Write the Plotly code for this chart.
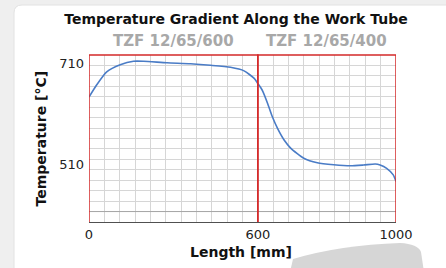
import plotly.graph_objects as go

# ---- data ----
length_mm = [0, 27, 63, 111, 158, 194, 277, 361, 432, 503, 551, 587, 600,
             609, 614, 628, 642, 657, 676, 695, 733, 772, 820, 868, 906,
             940, 954, 973, 992, 1000]
temperature_c = [643, 667, 693, 707, 714, 714, 711, 709, 706, 702, 695, 680, 670,
                 661, 655, 631, 604, 581, 558, 542, 522, 513, 509, 507, 508.5,
                 510.5, 508.5, 502, 489, 476]
section_bounds_mm = [0, 600, 1000]
section_names = ["TZF 12/65/600", "TZF 12/65/400"]
x_tick_mm = [0, 600, 1000]
x_tick_labels = ["0", "600", "1000"]
y_tick_vals = [510, 710]
y_tick_labels = ["510", "710"]

# grid cells per section (chart uses 11 cells for first tube, 9 for second)
section_cells = [11, 9]
Y_CELLS = 16


def to_u(mm):
    """Map length in mm onto the chart's piecewise horizontal scale."""
    base = 0
    for i, c in enumerate(section_cells):
        a, b = section_bounds_mm[i], section_bounds_mm[i + 1]
        if mm <= b or i == len(section_cells) - 1:
            return base + (mm - a) / (b - a) * c
        base += c
    return base


W, H = 446, 268
ML, MR, MT, MB = 89, 50, 55, 46
PW, PH = W - ML - MR, H - MT - MB


def px(x):
    return (x - ML) / PW


def py(y):
    return (H - MB - y) / PH


U_MAX = sum(section_cells)

fig = go.Figure()
fig.add_trace(go.Scatter(
    x=[to_u(v) for v in length_mm], y=temperature_c,
    mode="lines", line=dict(color="#4a7cc6", width=1.6, shape="spline", smoothing=0.6),
    showlegend=False, hoverinfo="x+y"))
fig.add_trace(go.Scatter(x=[], y=[], xaxis="x2", yaxis="y2",
                         showlegend=False, hoverinfo="skip"))

shapes = []
# card background
card = (f"M {px(14)},{py(272)} L {px(14)},{py(13)} Q {px(14)},{py(5)} {px(22)},{py(5)} "
        f"L {px(450)},{py(5)} L {px(450)},{py(272)} Z")
shapes.append(dict(type="path", path=card, xref="paper", yref="paper",
                   fillcolor="white", line=dict(color="#e2e2e2", width=1), layer="below"))
# decorative tube picture at bottom
tube = (f"M {px(290)},{py(272)} L {px(293)},{py(259)} Q {px(340)},{py(245)} {px(400)},{py(243)} "
        f"Q {px(418)},{py(244)} {px(421)},{py(252)} L {px(424)},{py(272)} Z")
shapes.append(dict(type="path", path=tube, xref="paper", yref="paper",
                   fillcolor="#d6d6d6", line=dict(width=0), layer="below"))
# darker gridline near bottom
shapes.append(dict(type="line", xref="paper", yref="y2", x0=0, x1=1, y0=1, y1=1,
                   line=dict(color="#a6a6a6", width=1)))
# red section frames
for i in range(len(section_names)):
    a, b = to_u(section_bounds_mm[i]), to_u(section_bounds_mm[i + 1])
    shapes.append(dict(type="path", xref="x", yref="paper",
                       path=f"M {a},0 L {a},1 L {b},1 L {b},0",
                       line=dict(color="#d42a2a", width=1.5)))

annotations = []
for i, name in enumerate(section_names):
    mid = (to_u(section_bounds_mm[i]) + to_u(section_bounds_mm[i + 1])) / 2
    annotations.append(dict(text=f"<b>{name}</b>", x=mid, xref="x", y=py(41), yref="paper",
                            showarrow=False, xanchor="center", yanchor="middle",
                            font=dict(family="DejaVu Sans", size=15, color="#a8a8a8")))
annotations.append(dict(text="<b>Length [mm]</b>", x=px(241), y=py(252), xref="paper", yref="paper",
                        showarrow=False, xanchor="center", yanchor="middle",
                        font=dict(family="DejaVu Sans", size=14, color="#111")))
annotations.append(dict(text="<b>Temperature [°C]</b>", x=px(40), y=0.5, xref="paper", yref="paper",
                        showarrow=False, xanchor="center", yanchor="middle", textangle=-90,
                        font=dict(family="DejaVu Sans", size=14, color="#111")))

fig.update_layout(
    width=W, height=H,
    margin=dict(l=ML, r=MR, t=MT, b=MB),
    paper_bgcolor="#efefef", plot_bgcolor="rgba(0,0,0,0)",
    title=dict(text="<b>Temperature Gradient Along the Work Tube</b>",
               x=236 / W, xanchor="center", y=1 - 19.5 / H, yanchor="middle",
               font=dict(family="DejaVu Sans", size=14, color="#111")),
    xaxis=dict(range=[0, U_MAX], tickmode="array",
               tickvals=[to_u(v) for v in x_tick_mm], ticktext=x_tick_labels,
               showgrid=False, zeroline=False, showline=True, linecolor="#505050",
               linewidth=1, ticks="", tickfont=dict(family="DejaVu Sans", size=13, color="#222")),
    yaxis=dict(range=[395.7, 726.4], tickmode="array", tickvals=y_tick_vals, ticktext=y_tick_labels,
               showgrid=False, zeroline=False, showline=False, ticks="", ticklabelstandoff=4,
               tickfont=dict(family="DejaVu Sans", size=13, color="#222")),
    xaxis2=dict(overlaying="x", side="top", range=[0, U_MAX], tick0=0, dtick=1,
                showgrid=True, gridcolor="#d6d6d6", gridwidth=1, showticklabels=False,
                zeroline=False, showline=False, ticks=""),
    yaxis2=dict(overlaying="y", side="right", range=[0, Y_CELLS], tick0=0, dtick=1,
                showgrid=True, gridcolor="#d6d6d6", gridwidth=1, showticklabels=False,
                zeroline=False, showline=False, ticks=""),
    shapes=shapes, annotations=annotations,
)

fig.write_html("out.html", config={"displayModeBar": False},
               post_script="document.body.style.margin='0';document.body.style.overflow='hidden';")
